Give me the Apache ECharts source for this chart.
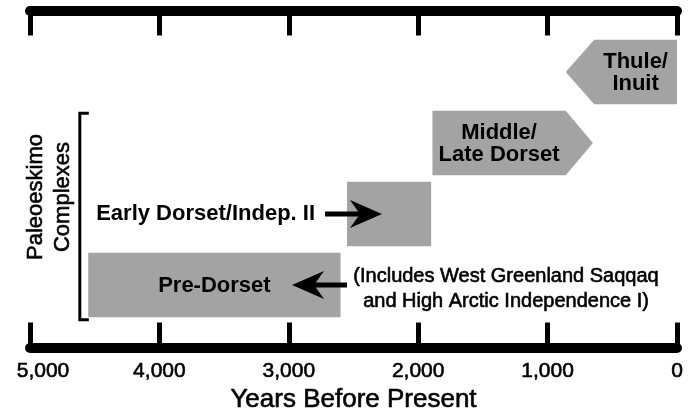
<!DOCTYPE html>
<html>
<head>
<meta charset="utf-8">
<script src="https://cdn.jsdelivr.net/npm/echarts@6/dist/echarts.min.js"></script>
<style>
html, body { margin: 0; padding: 0; background: #fff; }
#chart { width: 694px; height: 413px; }
</style>
</head>
<body>
<div id="chart"></div>
<script>
// all years are "before present"
const yearMin = 0;
const yearMax = 5000;
const yearStep = 1000;

// culture blocks, one row each (row 0 at the bottom)
const periodNames = ['Pre-Dorset', '', 'Middle/\nLate Dorset', 'Thule/\nInuit'];
const periodRow = [0, 1, 2, 3];
const periodOld = [4550, 2550, 1890, 640];
const periodYoung = [2600, 1900, 860, 0];
const periodTip = [null, null, 650, 860]; // pointed end, if the block has one

// arrows with their captions
const noteText = ['(Includes West Greenland Saqqaq\nand High Arctic Independence I)', 'Early Dorset/Indep. II'];
const noteRow = [0, 1];
const arrowTail = [2550, 2720];
const arrowHead = [2975, 2280];

// bracket for the Paleoeskimo group
const bracketYear = 4615;
const bracketLow = -0.49;
const bracketHigh = 2.42;

const FONT = '"Liberation Sans", Arial, Helvetica, sans-serif';
const GRAY = '#a3a3a3';
// thin outline to get the medium weight of the scanned lettering
const MEDIUM = { stroke: '#000', lineWidth: 0.6 };

const chart = echarts.init(document.getElementById('chart'));

const blockData = periodOld.map((o, i) => [o, periodYoung[i], periodTip[i] == null ? periodYoung[i] : periodTip[i], periodRow[i], periodNames[i]]);
const arrowData = arrowTail.map((t, i) => [t, arrowHead[i], noteRow[i], noteText[i]]);

function renderBlock(params, api) {
  const old = api.value(0), young = api.value(1), tip = api.value(2), row = api.value(3);
  const half = 0.455;
  const pts = [];
  if (tip > old) pts.push(api.coord([tip, row]));
  pts.push(api.coord([old, row + half]));
  pts.push(api.coord([young, row + half]));
  if (tip < young) pts.push(api.coord([tip, row]));
  pts.push(api.coord([young, row - half]));
  pts.push(api.coord([old, row - half]));
  const mid = api.coord([(old + young) / 2, row]);
  const label = blockData[params.dataIndex][4];
  return {
    type: 'group',
    children: [
      { type: 'polygon', shape: { points: pts }, style: { fill: GRAY } },
      {
        type: 'text',
        style: {
          x: mid[0], y: mid[1] + 1, text: label,
          fill: '#000', font: 'bold 22px ' + FONT, lineHeight: 22,
          align: 'center', verticalAlign: 'middle'
        }
      }
    ]
  };
}

function renderArrow(params, api) {
  const row = api.value(2);
  const tail = api.coord([api.value(0), row]);
  const head = api.coord([api.value(1), row]);
  const d = head[0] > tail[0] ? 1 : -1;
  const text = arrowData[params.dataIndex][3];
  const children = [
    {
      type: 'line',
      shape: { x1: tail[0], y1: tail[1], x2: head[0] - d * 20, y2: head[1] },
      style: { stroke: '#000', lineWidth: 5 }
    },
    {
      type: 'polygon',
      shape: { points: [
        [head[0], head[1]],
        [head[0] - d * 32, head[1] - 14],
        [head[0] - d * 22, head[1]],
        [head[0] - d * 32, head[1] + 14]
      ] },
      style: { fill: '#000' }
    }
  ];
  if (d > 0) {
    children.push({
      type: 'text',
      style: {
        x: tail[0] - 10, y: tail[1], text: text, fill: '#000',
        font: 'bold 22px ' + FONT, align: 'right', verticalAlign: 'middle'
      }
    });
  } else {
    children.push({
      type: 'text',
      style: Object.assign({
        x: tail[0] + 159, y: tail[1] + 4, text: text, fill: '#000',
        font: '20px ' + FONT, lineHeight: 25, align: 'center', verticalAlign: 'middle'
      }, MEDIUM)
    });
  }
  return { type: 'group', children: children };
}

function renderBracket(params, api) {
  const top = api.coord([api.value(0), api.value(2)]);
  const bot = api.coord([api.value(0), api.value(1)]);
  return {
    type: 'polyline',
    shape: { points: [[top[0] + 9, top[1]], top, bot, [bot[0] + 9, bot[1]]] },
    style: { stroke: '#000', lineWidth: 3, fill: null }
  };
}

const axisCommon = {
  type: 'value',
  min: yearMin,
  max: yearMax,
  interval: yearStep,
  inverse: true,
  splitLine: { show: false },
  axisLine: { show: true, onZero: false, lineStyle: { color: '#000', width: 10 } },
  axisTick: { show: true, inside: true, length: 25, lineStyle: { color: '#000', width: 5 } }
};

const option = {
  animation: false,
  backgroundColor: '#fff',
  grid: { left: 30, right: 17, top: 10.5, bottom: 65.5, containLabel: false, outerBoundsMode: 'none' },
  xAxis: [
    Object.assign({}, axisCommon, {
      position: 'bottom',
      name: 'Years Before Present',
      nameLocation: 'middle',
      nameGap: 38,
      nameTextStyle: { color: '#000', fontSize: 26, fontFamily: FONT, textBorderColor: '#000', textBorderWidth: 0.6 },
      axisLabel: {
        color: '#000', fontSize: 21, fontFamily: FONT, margin: 13,
        textBorderColor: '#000', textBorderWidth: 0.6,
        formatter: v => v === yearMax ? '{first|' + echarts.format.addCommas(v) + '}' : echarts.format.addCommas(v),
        rich: { first: { color: '#000', fontSize: 21, fontFamily: FONT, textBorderColor: '#000', textBorderWidth: 0.6, padding: [0, 0, 0, 26] } }
      }
    }),
    Object.assign({}, axisCommon, {
      position: 'top',
      axisLabel: { show: false }
    })
  ],
  yAxis: { type: 'value', min: -0.88, max: 3.866, show: false },
  graphic: [{
    type: 'text',
    x: 49, y: 197, rotation: Math.PI / 2,
    style: Object.assign({
      text: 'Paleoeskimo\nComplexes', fill: '#000', font: '22px ' + FONT,
      lineHeight: 27, align: 'center', verticalAlign: 'middle'
    }, MEDIUM)
  }],
  series: [
    { type: 'custom', renderItem: renderBlock, data: blockData, encode: { x: [0, 1], y: 3 }, silent: true },
    { type: 'custom', renderItem: renderArrow, data: arrowData, encode: { x: [0, 1], y: 2 }, silent: true },
    { type: 'custom', renderItem: renderBracket, data: [[bracketYear, bracketLow, bracketHigh]], encode: { x: 0, y: [1, 2] }, silent: true }
  ]
};

chart.setOption(option);
</script>
</body>
</html>
